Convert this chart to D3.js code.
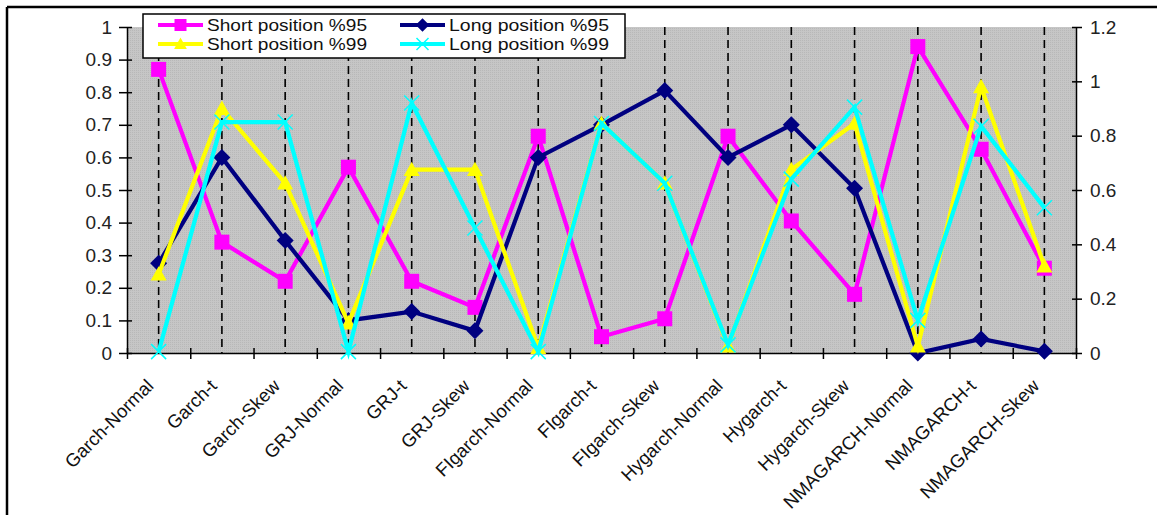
<!DOCTYPE html>
<html><head><meta charset="utf-8">
<script src="https://cdn.jsdelivr.net/npm/d3@7"></script>
<style>html,body{margin:0;padding:0;background:#fff;}svg{display:block;font-family:"Liberation Sans",Arial,sans-serif;}</style>
</head><body>
<svg id="c" width="1157" height="515"></svg>
<script>
const categories = ["Garch-Normal","Garch-t","Garch-Skew","GRJ-Normal","GRJ-t","GRJ-Skew","FIgarch-Normal","FIgarch-t","FIgarch-Skew","Hygarch-Normal","Hygarch-t","Hygarch-Skew","NMAGARCH-Normal","NMAGARCH-t","NMAGARCH-Skew"];
const short95 = [0.87,0.34,0.22,0.57,0.22,0.14,0.665,0.05,0.105,0.665,0.405,0.18,0.94,0.625,0.26];
const long95  = [0.275,0.60,0.345,0.10,0.127,0.068,0.60,0.70,0.805,0.60,0.70,0.505,0.0,0.043,0.005];
const short99 = [0.29,0.90,0.625,0.11,0.675,0.675,0.02,0.845,0.625,0.025,0.675,0.845,0.025,0.98,0.32];
const long99  = [0.005,0.85,0.85,0.005,0.92,0.46,0.005,0.845,0.625,0.03,0.64,0.905,0.12,0.835,0.535];
const leftTicks = [0,0.1,0.2,0.3,0.4,0.5,0.6,0.7,0.8,0.9,1];
const rightTicks = [0,0.2,0.4,0.6,0.8,1,1.2];
const seriesNames = ["Short position %95","Long position %95","Short position %99","Long position %99"];

const svg = d3.select("#c");
const L = 127, R = 1076, T = 27, B = 353;

// frame
svg.append("line").attr("x1",7).attr("x2",1157).attr("y1",7).attr("y2",7).attr("stroke","#000").attr("stroke-width",2.5);
svg.append("line").attr("x1",7).attr("x2",7).attr("y1",7).attr("y2",515).attr("stroke","#000").attr("stroke-width",2.5);

const x = d3.scaleBand().domain(categories).range([L,R]).padding(0);
const cx = c => x(c) + x.bandwidth()/2;
const xb = d3.scaleLinear().domain([0,categories.length]).range([L,R]);
const yL = d3.scaleLinear().domain([0,1]).range([B,T]);
const yR = d3.scaleLinear().domain([0,1.2]).range([B,T]);

// plot background with fine dot pattern
const defs = svg.append("defs");
const pat = defs.append("pattern").attr("id","dots").attr("width",2).attr("height",2).attr("patternUnits","userSpaceOnUse");
pat.append("rect").attr("width",2).attr("height",2).attr("fill","#c6c6c6");
pat.append("rect").attr("width",1).attr("height",1).attr("fill","#b8b8b8");
svg.append("rect").attr("x",L).attr("y",T).attr("width",R-L).attr("height",B-T).attr("fill","url(#dots)");

// dashed category lines
svg.append("g").selectAll("line").data(categories).join("line")
  .attr("x1",d=>cx(d)).attr("x2",d=>cx(d)).attr("y1",T).attr("y2",B)
  .attr("stroke","#000").attr("stroke-width",1.6).attr("stroke-dasharray","8,5");

// axes
const fmt = d3.format("~g");
const gl = svg.append("g").attr("transform",`translate(${L},0)`)
  .call(d3.axisLeft(yL).tickValues(leftTicks).tickFormat(fmt).tickSizeOuter(0).tickSizeInner(8).tickPadding(7));
gl.selectAll(".tick line").attr("x2",5).attr("x1",-8);
const gr = svg.append("g").attr("transform",`translate(${R},0)`)
  .call(d3.axisRight(yR).tickValues(rightTicks).tickFormat(fmt).tickSizeOuter(0).tickSizeInner(6).tickPadding(8));
gr.selectAll(".tick line").attr("x1",-4).attr("x2",6);
const gb = svg.append("g").attr("transform",`translate(0,${B})`)
  .call(d3.axisBottom(xb).tickValues(d3.range(0,categories.length+1)).tickFormat("").tickSizeOuter(0).tickSizeInner(6));
gb.selectAll(".tick line").attr("y1",-5).attr("y2",6);
[gl,gr,gb].forEach(g=>{
  g.select(".domain").attr("stroke","#000").attr("stroke-width",1.5);
  g.selectAll(".tick line").attr("stroke","#000").attr("stroke-width",1.5);
  g.selectAll(".tick text").attr("font-size",19).attr("fill","#222").attr("font-family","Liberation Sans, Arial, sans-serif");
});

// x category labels
svg.append("g").selectAll("text").data(categories).join("text")
  .attr("transform",d=>`translate(${cx(d)-4},${B+34}) rotate(-45)`)
  .attr("text-anchor","end").attr("font-size",18.5).attr("fill","#111").text(d=>d);

// marker shapes
function markerPath(type, s){
  const p = d3.path(), h = s/2;
  if(type==="square"){ p.rect(-h,-h,s,s); }
  else if(type==="diamond"){ p.moveTo(0,-h); p.lineTo(h,0); p.lineTo(0,h); p.lineTo(-h,0); p.closePath(); }
  else if(type==="triangle"){ p.moveTo(0,-h); p.lineTo(h,h*0.8); p.lineTo(-h,h*0.8); p.closePath(); }
  else if(type==="x"){ p.moveTo(-h,-h); p.lineTo(h,h); p.moveTo(h,-h); p.lineTo(-h,h); }
  return p.toString();
}

const series = [
  {name:seriesNames[0], values:short95, y:yL, color:"#ff00ff", marker:"square", size:15},
  {name:seriesNames[1], values:long95,  y:yL, color:"#000080", marker:"diamond", size:17},
  {name:seriesNames[2], values:short99, y:yR, color:"#ffff00", marker:"triangle", size:16},
  {name:seriesNames[3], values:long99,  y:yR, color:"#00ffff", marker:"x", size:15}
];

series.forEach(s=>{
  const g = svg.append("g");
  const line = d3.line().x((v,i)=>cx(categories[i])).y(v=>s.y(v));
  g.append("path").attr("d",line(s.values)).attr("fill","none").attr("stroke",s.color).attr("stroke-width",4.2).attr("stroke-linejoin","miter");
  g.selectAll("path.m").data(s.values).join("path").attr("class","m")
    .attr("transform",(v,i)=>`translate(${cx(categories[i])},${s.y(v)})`)
    .attr("d",markerPath(s.marker,s.size))
    .attr("fill",s.marker==="x"?"none":s.color)
    .attr("stroke",s.color).attr("stroke-width",s.marker==="x"?1.5:0);
});

// legend
const lg = svg.append("g");
lg.append("rect").attr("x",143).attr("y",14).attr("width",482).attr("height",44).attr("fill","#fff").attr("stroke","#000").attr("stroke-width",1.5);
const legPos = [{x:158,y:25},{x:400,y:25},{x:158,y:44},{x:400,y:44}];
series.forEach((s,i)=>{
  const p = legPos[i];
  lg.append("line").attr("x1",p.x).attr("x2",p.x+45).attr("y1",p.y).attr("y2",p.y).attr("stroke",s.color).attr("stroke-width",4.2);
  lg.append("path").attr("transform",`translate(${p.x+22.5},${p.y})`).attr("d",markerPath(s.marker,s.size*0.8))
    .attr("fill",s.marker==="x"?"none":s.color).attr("stroke",s.color).attr("stroke-width",s.marker==="x"?1.5:0);
  lg.append("text").attr("x",p.x+49).attr("y",p.y+6).attr("font-size",16.5)
    .attr("textLength",160).attr("lengthAdjust","spacingAndGlyphs").attr("fill","#111").text(s.name);
});
</script>
</body></html>
